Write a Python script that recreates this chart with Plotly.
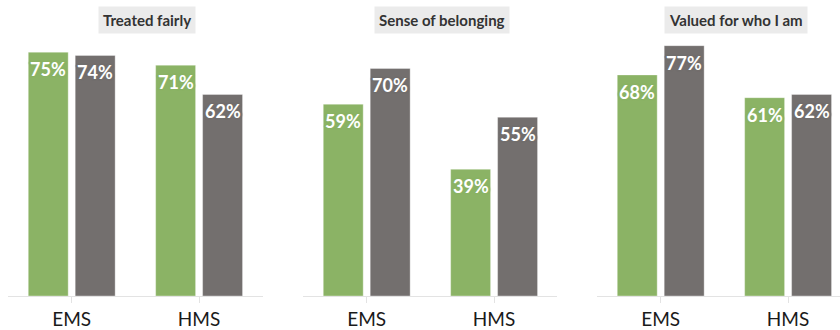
import plotly.graph_objects as go

# Survey results: share agreeing, by school type
groups = ["EMS", "HMS"]
panels = ["Treated fairly", "Sense of belonging", "Valued for who I am"]
series_a = [[75, 71], [59, 39], [68, 61]]   # green series
series_b = [[74, 62], [70, 55], [77, 62]]   # gray series

GREEN = "#8bb365"
GRAY = "#736f6e"
FONT = "Lato"

W, H = 840, 330
ML, MR, MT, MB = 8, 0, 30, 30
PW = W - ML - MR
PH = H - MT - MB

# panel extents in pixels (left, right) within the page
px_ext = [(8, 263), (303, 557), (597, 840)]
title_cx = [147, 441.5, 736]
band = 127.4
BARGAP = 0.263
BARGROUPGAP = 0.149
YMAX = PH / 3.3

fig = go.Figure()
annotations = []
for i, name in enumerate(panels):
    xa = "x" if i == 0 else f"x{i+1}"
    ya = "y" if i == 0 else f"y{i+1}"
    edge = dict(width=1, color="rgba(255,255,255,0.35)")
    fig.add_trace(go.Bar(x=groups, y=series_a[i], marker=dict(color=GREEN, line=edge),
                         xaxis=xa, yaxis=ya, showlegend=False, hoverinfo="skip"))
    fig.add_trace(go.Bar(x=groups, y=series_b[i], marker=dict(color=GRAY, line=edge),
                         xaxis=xa, yaxis=ya, showlegend=False, hoverinfo="skip"))
    l, r = px_ext[i]
    dom = [(l - ML) / PW, (r - ML) / PW]
    span = (r - l) / band
    key = "xaxis" if i == 0 else f"xaxis{i+1}"
    ykey = "yaxis" if i == 0 else f"yaxis{i+1}"
    fig.layout[key] = dict(domain=dom, range=[-0.5, -0.5 + span], type="category",
                           showline=True, linecolor="#e3e3e3", linewidth=1,
                           ticks="outside", ticklen=6, tickcolor="#e3e3e3", tickwidth=1,
                           tickfont=dict(family=FONT, size=19, color="#1a1a1a"),
                           showgrid=False, zeroline=False, anchor=ya, fixedrange=True)
    fig.layout[ykey] = dict(domain=[0, 1], range=[0, YMAX], visible=False, anchor=xa, fixedrange=True)

    # panel title
    annotations.append(dict(text=f"<b>{name}</b>", xref="paper", yref="paper",
                            x=(title_cx[i] - ML) / PW, y=1 + (MT - 20) / PH,
                            xanchor="center", yanchor="middle",
                            showarrow=False, bgcolor="#ebebeb", borderpad=4,
                            font=dict(family=FONT, size=15, color="#333333")))

    # value labels just under each bar top
    half = (1 - BARGAP) / 4
    for j, g in enumerate(groups):
        for vals, col, off in ((series_a[i], GREEN, -half), (series_b[i], GRAY, half)):
            v = vals[j]
            glow = ", ".join(f"{dx}px {dy}px 1px {col}" for dx, dy in
                             ((-2, 0), (2, 0), (0, -1), (0, 1), (-1, -1), (1, -1), (-1, 1), (1, 1)))
            annotations.append(dict(text=f"<b>{v}%</b>", xref=xa, yref=ya, x=j + off, y=v,
                                    xanchor="center", yanchor="middle", yshift=-17, showarrow=False,
                                    font=dict(family=FONT, size=18, color="white", shadow=glow)))

fig.update_layout(width=W, height=H, margin=dict(l=ML, r=MR, t=MT, b=MB),
                  barmode="group", bargap=BARGAP, bargroupgap=BARGROUPGAP,
                  plot_bgcolor="white", paper_bgcolor="white",
                  annotations=annotations)

fig.write_html("out.html", config={"displayModeBar": False})
